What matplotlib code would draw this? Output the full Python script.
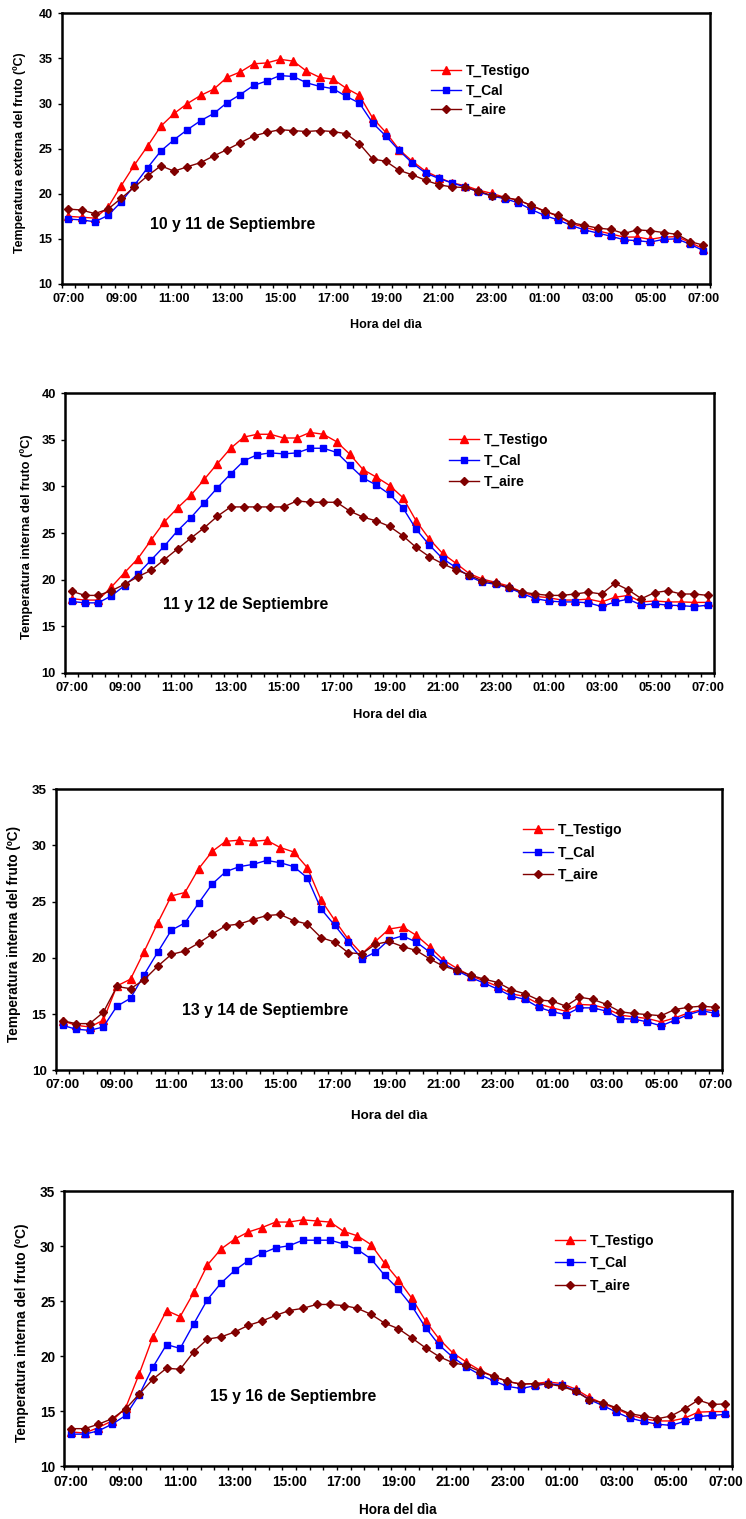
import numpy as np
import matplotlib
matplotlib.use('Agg')
import matplotlib.pyplot as plt
from matplotlib.ticker import FixedLocator

plt.rcParams['font.family'] = ['Liberation Sans', 'DejaVu Sans']
plt.rcParams['font.weight'] = 'bold'

# ---------------- data ----------------
times = ['%02d:%s' % ((7 + i // 2) % 24, '00' if i % 2 == 0 else '30') for i in range(49)]
label_idx = list(range(0, 49, 4))

series_names = ['T_Testigo', 'T_Cal', 'T_aire']
notes = ['10 y 11 de Septiembre', '11 y 12 de Septiembre',
         '13 y 14 de Septiembre', '15 y 16 de Septiembre']
ylabels = ['Temperatura externa del fruto (ºC)', 'Temperatura interna del fruto (ºC)',
           'Temperatura interna del fruto (ºC)', 'Temperatura interna del fruto (ºC)']
xlabel = 'Hora del dìa'

p1_testigo = [17.5, 17.4, 17.3, 18.5, 20.9, 23.2, 25.3, 27.5, 28.9, 30.0,
              30.9, 31.6, 32.9, 33.5, 34.4, 34.5, 34.9, 34.7, 33.6, 32.9,
              32.7, 31.7, 30.9, 28.4, 26.8, 24.9, 23.6, 22.5, 21.8, 21.2,
              20.9, 20.4, 20.05, 19.6, 19.3, 18.7, 18.1, 17.5, 16.7, 16.3,
              15.9, 15.55, 15.2, 15.2, 14.95, 15.2, 15.25, 14.6, 13.9]
p1_cal = [17.2, 17.1, 16.9, 17.6, 19.1, 20.95, 22.9, 24.75, 26.0, 27.1,
          28.1, 28.9, 30.1, 31.0, 32.0, 32.5, 33.1, 33.0, 32.3, 31.9,
          31.65, 30.8, 30.05, 27.85, 26.4, 24.8, 23.4, 22.3, 21.7, 21.2,
          20.75, 20.2, 19.75, 19.45, 19.0, 18.25, 17.6, 17.1, 16.5, 16.0,
          15.65, 15.3, 14.9, 14.8, 14.65, 14.95, 15.0, 14.4, 13.7]
p1_aire = [18.3, 18.2, 17.8, 18.3, 19.5, 20.75, 22.0, 23.1, 22.5, 23.0,
           23.45, 24.2, 24.9, 25.65, 26.4, 26.8, 27.1, 27.0, 26.9, 27.0,
           26.9, 26.65, 25.55, 23.85, 23.6, 22.6, 22.1, 21.5, 21.0, 20.75,
           20.7, 20.3, 19.8, 19.6, 19.3, 18.7, 18.05, 17.6, 16.8, 16.5,
           16.2, 16.05, 15.6, 16.0, 15.9, 15.7, 15.5, 14.7, 14.3]

p2_testigo = [17.95, 17.8, 17.8, 19.2, 20.75, 22.25, 24.25, 26.2, 27.7, 29.05,
              30.75, 32.45, 34.1, 35.3, 35.6, 35.6, 35.2, 35.2, 35.8, 35.6,
              34.8, 33.45, 31.8, 31.0, 30.1, 28.8, 26.3, 24.35, 22.8, 21.75,
              20.65, 20.05, 19.7, 19.3, 18.65, 18.2, 18.05, 17.8, 17.8, 17.9,
              17.6, 18.1, 18.3, 17.6, 17.7, 17.6, 17.6, 17.55, 17.55]
p2_cal = [17.65, 17.5, 17.5, 18.25, 19.35, 20.6, 22.1, 23.6, 25.25, 26.65,
          28.25, 29.85, 31.35, 32.75, 33.4, 33.6, 33.5, 33.6, 34.1, 34.1,
          33.65, 32.25, 30.9, 30.15, 29.15, 27.7, 25.4, 23.7, 22.25, 21.3,
          20.35, 19.7, 19.5, 19.1, 18.5, 17.95, 17.7, 17.6, 17.6, 17.5,
          17.1, 17.6, 17.9, 17.25, 17.4, 17.25, 17.2, 17.1, 17.25]
p2_aire = [18.75, 18.3, 18.3, 18.8, 19.5, 20.3, 21.0, 22.15, 23.3, 24.45,
           25.55, 26.8, 27.8, 27.8, 27.8, 27.8, 27.8, 28.45, 28.3, 28.3,
           28.3, 27.35, 26.7, 26.3, 25.7, 24.7, 23.45, 22.45, 21.7, 21.05,
           20.5, 19.85, 19.6, 19.15, 18.65, 18.45, 18.3, 18.3, 18.45, 18.65,
           18.45, 19.6, 18.9, 17.95, 18.6, 18.8, 18.45, 18.45, 18.3]

p3_testigo = [14.4, 14.0, 13.85, 14.45, 17.5, 18.1, 20.55, 23.1, 25.5, 25.8,
              27.9, 29.45, 30.35, 30.45, 30.35, 30.45, 29.8, 29.4, 28.0, 25.15,
              23.35, 21.65, 20.35, 21.45, 22.55, 22.75, 22.0, 20.95, 19.8, 19.05,
              18.4, 17.95, 17.45, 16.8, 16.55, 15.9, 15.55, 15.25, 15.85, 15.8,
              15.5, 14.9, 14.75, 14.6, 14.3, 14.65, 15.1, 15.4, 15.3]
p3_cal = [14.0, 13.65, 13.55, 13.85, 15.7, 16.4, 18.5, 20.5, 22.45, 23.1,
          24.85, 26.55, 27.65, 28.1, 28.3, 28.65, 28.45, 28.1, 27.1, 24.35,
          22.9, 21.4, 19.9, 20.5, 21.6, 21.95, 21.4, 20.5, 19.5, 18.85,
          18.25, 17.75, 17.2, 16.6, 16.3, 15.6, 15.2, 14.95, 15.55, 15.55,
          15.25, 14.6, 14.55, 14.3, 13.95, 14.45, 14.95, 15.3, 15.05]
p3_aire = [14.4, 14.15, 14.15, 15.15, 17.45, 17.25, 18.05, 19.25, 20.3, 20.6,
           21.3, 22.1, 22.85, 23.0, 23.4, 23.75, 23.85, 23.3, 23.0, 21.8,
           21.4, 20.45, 20.35, 21.2, 21.45, 21.0, 20.65, 19.9, 19.25, 18.9,
           18.45, 18.1, 17.8, 17.15, 16.8, 16.25, 16.15, 15.7, 16.5, 16.3,
           15.85, 15.2, 15.05, 14.95, 14.85, 15.4, 15.6, 15.7, 15.6]

p4_testigo = [13.1, 13.0, 13.5, 14.1, 15.3, 18.4, 21.75, 24.15, 23.6, 25.8,
              28.3, 29.75, 30.65, 31.3, 31.7, 32.2, 32.2, 32.4, 32.3, 32.2,
              31.35, 30.95, 30.15, 28.45, 26.95, 25.25, 23.2, 21.55, 20.3, 19.45,
              18.7, 18.15, 17.7, 17.45, 17.5, 17.65, 17.5, 17.0, 16.25, 15.7,
              15.2, 14.65, 14.3, 14.1, 14.1, 14.35, 14.9, 14.95, 14.95]
p4_cal = [12.9, 12.9, 13.2, 13.8, 14.6, 16.5, 19.0, 21.05, 20.7, 22.95,
          25.15, 26.65, 27.8, 28.7, 29.35, 29.85, 30.05, 30.55, 30.55, 30.55,
          30.2, 29.7, 28.85, 27.35, 26.1, 24.55, 22.6, 21.0, 19.9, 19.0,
          18.3, 17.75, 17.25, 17.05, 17.3, 17.5, 17.35, 16.85, 16.05, 15.5,
          14.9, 14.35, 14.05, 13.8, 13.7, 14.05, 14.5, 14.6, 14.7]
p4_aire = [13.4, 13.4, 13.8, 14.3, 15.2, 16.55, 17.9, 18.9, 18.8, 20.4,
           21.55, 21.75, 22.2, 22.8, 23.2, 23.7, 24.15, 24.35, 24.7, 24.7,
           24.6, 24.35, 23.8, 23.0, 22.5, 21.65, 20.75, 19.95, 19.4, 19.15,
           18.6, 18.15, 17.7, 17.45, 17.5, 17.45, 17.25, 16.8, 16.05, 15.75,
           15.3, 14.75, 14.55, 14.3, 14.55, 15.2, 16.0, 15.6, 15.65]

panels_data = [(p1_testigo, p1_cal, p1_aire), (p2_testigo, p2_cal, p2_aire),
               (p3_testigo, p3_cal, p3_aire), (p4_testigo, p4_cal, p4_aire)]
y_limits = [(10, 40), (10, 40), (10, 35), (10, 35)]

# ---------------- styles / layout ----------------
colors = ['#FF0000', '#0000FF', '#800000']
markers = ['^', 's', 'D']
msizes = [5.5, 4.2, 3.8]

W, H = 746, 1519
layout = [
    dict(l=61.7, r=710.0, t=13.3, b=284.0, ylx=20, tfs=9.0, yfs=8.9, xfs=9.0,
         xly=325, note=(233, 224), leg=(431, 64), lsp=0.39),
    dict(l=65.0, r=714.3, t=393.3, b=672.7, ylx=27, tfs=9.3, yfs=9.3, xfs=9.3,
         xly=715, note=(246, 605), leg=(449, 433), lsp=0.50),
    dict(l=55.7, r=722.3, t=789.0, b=1070.3, ylx=14, tfs=9.6, yfs=9.8, xfs=9.6,
         xly=1116, note=(265, 1011), leg=(523, 823), lsp=0.61),
    dict(l=64.3, r=732.3, t=1191.3, b=1466.0, ylx=22, tfs=9.8, yfs=9.9, xfs=9.8,
         xly=1510, note=(293, 1397), leg=(555, 1234), lsp=0.59),
]

fig = plt.figure(figsize=(W / 100, H / 100), dpi=100)
x = np.arange(len(times))

for k, (data, lay) in enumerate(zip(panels_data, layout)):
    ax = fig.add_axes([lay['l'] / W, 1 - lay['b'] / H,
                       (lay['r'] - lay['l']) / W, (lay['b'] - lay['t']) / H])
    handles = []
    for vals, c, m, ms, name in zip(data, colors, markers, msizes, series_names):
        h, = ax.plot(x, vals, color=c, lw=1.0, marker=m, ms=ms,
                     markerfacecolor=c, markeredgecolor=c, label=name)
        handles.append(h)
    ymin, ymax = y_limits[k]
    ax.set_xlim(-0.5, len(times) - 0.5)
    ax.set_ylim(ymin, ymax)
    ax.set_yticks(np.arange(ymin, ymax + 1, 5))
    ax.set_xticks(label_idx)
    ax.set_xticklabels([times[i] for i in label_idx])
    ax.xaxis.set_minor_locator(FixedLocator(np.arange(-0.5, len(times), 1)))
    ax.tick_params(axis='x', which='major', length=0, pad=6.5, labelsize=lay['tfs'])
    ax.tick_params(axis='x', which='minor', length=3, width=1, direction='out')
    ax.tick_params(axis='y', which='major', length=2.6, width=1, direction='out',
                   pad=4, labelsize=lay['tfs'])
    for lab in ax.get_xticklabels() + ax.get_yticklabels():
        lab.set_fontweight('bold')
    for sp in ax.spines.values():
        sp.set_linewidth(1.8)
        sp.set_color('black')

    fig.text(lay['ylx'] / W, 1 - ((lay['t'] + lay['b']) / 2 + 4) / H, ylabels[k],
             rotation=90, ha='center', va='center', fontsize=lay['yfs'],
             fontweight='bold')
    fig.text((lay['l'] + lay['r']) / 2 / W, 1 - lay['xly'] / H, xlabel,
             ha='center', va='center', fontsize=lay['xfs'], fontweight='bold')
    fig.text(lay['note'][0] / W, 1 - lay['note'][1] / H, notes[k],
             ha='center', va='center', fontsize=11.3, fontweight='bold')

    ax.legend(handles, series_names, loc='upper left',
              bbox_to_anchor=(lay['leg'][0] / W, 1 - lay['leg'][1] / H),
              bbox_transform=fig.transFigure, frameon=False, borderpad=0,
              borderaxespad=0, handlelength=2.16, handletextpad=0.36,
              labelspacing=lay['lsp'], numpoints=1,
              prop={'weight': 'bold', 'size': 10})

fig.savefig('out.png', dpi=100)
